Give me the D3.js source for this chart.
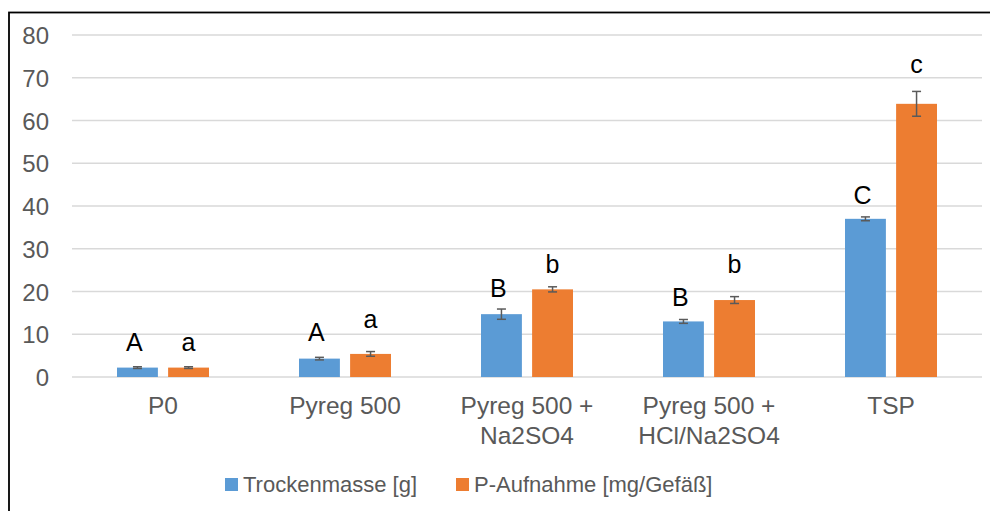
<!DOCTYPE html>
<html><head><meta charset="utf-8">
<script src="https://cdn.jsdelivr.net/npm/d3@7"></script>
<style>html,body{margin:0;padding:0;background:#fff;}svg{display:block;font-family:"Liberation Sans",Arial,sans-serif;}</style>
</head><body>
<svg id="c" width="990" height="511"></svg>
<script>
const categories = [["P0"],["Pyreg 500"],["Pyreg 500 +","Na2SO4"],["Pyreg 500 +","HCl/Na2SO4"],["TSP"]];
const seriesNames = ["Trockenmasse [g]","P-Aufnahme [mg/Gefäß]"];
const trockenmasse = [2.2, 4.3, 14.7, 13.0, 37.0];
const trockenErr   = [0.2, 0.3, 1.2, 0.45, 0.45];
const pAufnahme    = [2.2, 5.4, 20.5, 18.0, 63.9];
const pErr         = [0.2, 0.55, 0.6, 0.8, 2.9];
const trockenLetters = ["A","A","B","B","C"];
const pLetters       = ["a","a","b","b","c"];
const trockenLetterAt = [6.1, 8.4, 18.8, 16.7, 40.5];
const pLetterAt       = [6.1, 11.5, 24.3, 24.3, 71.0];
const yTicks = [0,10,20,30,40,50,60,70,80];
const colors = ["#5B9BD5","#ED7D31"];

(function(){
const svg = d3.select("#c");
svg.append("rect").attr("x",9).attr("y",12.5).attr("width",1100).attr("height",600)
  .attr("fill","none").attr("stroke","#000").attr("stroke-width",1.8);

const pLeft=72,pRight=982,pTop=35,pBottom=377;
const y = d3.scaleLinear().domain([0,80]).range([pBottom,pTop]);
const x0 = d3.scaleBand().domain(d3.range(categories.length)).range([pLeft,pRight]);
const bw = x0.bandwidth();
const x1 = d3.scaleBand().domain([0,1]).range([bw/2-46,bw/2+46]).paddingInner(0.2);

svg.append("g").selectAll("line").data(yTicks).join("line")
  .attr("x1",pLeft).attr("x2",pRight).attr("y1",d=>y(d)).attr("y2",d=>y(d))
  .attr("stroke","#D9D9D9").attr("stroke-width",1.3);

const yAxis = d3.axisLeft(y).tickValues(yTicks).tickSize(0).tickPadding(0);
const ya = svg.append("g").attr("transform","translate(49,0)").call(yAxis);
ya.select(".domain").remove();
ya.selectAll("text").attr("fill","#595959").attr("font-size",24).attr("font-family","Liberation Sans, Arial, sans-serif").attr("dy","0.36em");

const series = [
  {vals:trockenmasse, err:trockenErr, letters:trockenLetters, at:trockenLetterAt},
  {vals:pAufnahme, err:pErr, letters:pLetters, at:pLetterAt}
];

series.forEach((s,si)=>{
  const g = svg.append("g");
  s.vals.forEach((v,i)=>{
    const bx = x0(i)+x1(si);
    const w = x1.bandwidth();
    g.append("rect").attr("x",bx).attr("y",y(v)).attr("width",w).attr("height",y(0)-y(v)).attr("fill",colors[si]);
    const cx = bx+w/2;
    const e = s.err[i];
    const eg = g.append("g").attr("stroke","#5A5A5A").attr("stroke-width",1.5);
    eg.append("line").attr("x1",cx).attr("x2",cx).attr("y1",y(v+e)).attr("y2",y(v-e));
    eg.append("line").attr("x1",cx-4.5).attr("x2",cx+4.5).attr("y1",y(v+e)).attr("y2",y(v+e));
    eg.append("line").attr("x1",cx-4.5).attr("x2",cx+4.5).attr("y1",y(v-e)).attr("y2",y(v-e));
    g.append("text").attr("x",cx-(si===0?3:0)).attr("y",y(s.at[i])).attr("text-anchor","middle")
      .attr("font-size",25).attr("fill","#000").text(s.letters[i]);
  });
});

const xa = svg.append("g");
categories.forEach((lines,i)=>{
  const t = xa.append("text").attr("x",x0(i)+bw/2).attr("y",414).attr("text-anchor","middle")
    .attr("font-size",24.5).attr("fill","#595959");
  lines.forEach((l,j)=>t.append("tspan").attr("x",x0(i)+bw/2).attr("dy",j===0?0:30).text(l));
});

const leg = svg.append("g");
const legX = [225,456];
seriesNames.forEach((n,i)=>{
  leg.append("rect").attr("x",legX[i]).attr("y",478).attr("width",13).attr("height",13).attr("fill",colors[i]);
  leg.append("text").attr("x",legX[i]+18).attr("y",492).attr("font-size",22).attr("fill","#595959").text(n);
});
})();
</script>
</body></html>
